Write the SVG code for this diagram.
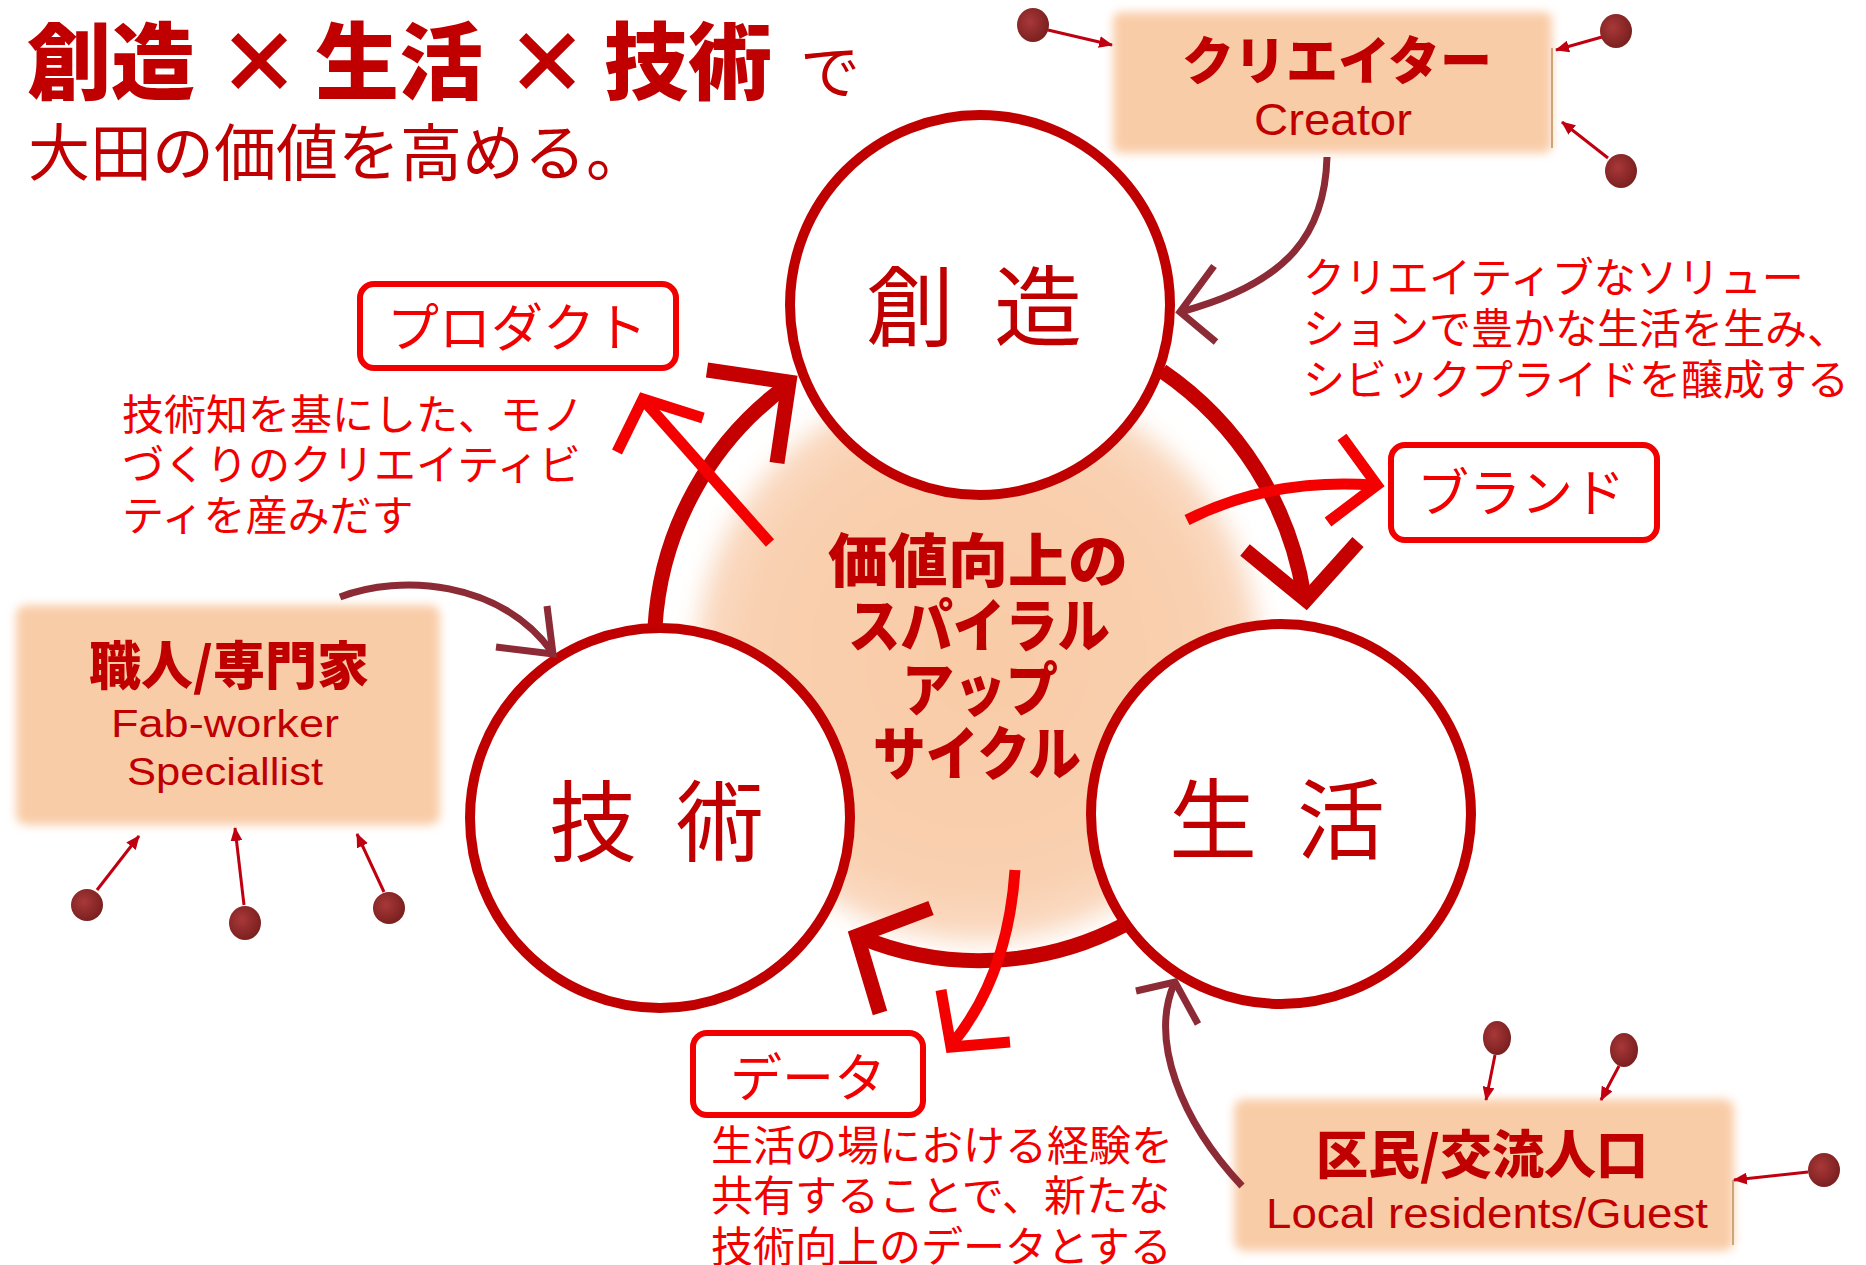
<svg xmlns="http://www.w3.org/2000/svg" width="1866" height="1265" viewBox="0 0 1866 1265">
<defs>
<style>
.jp{font-family:'Noto Sans CJK JP','Noto Sans',sans-serif}
.lat{font-family:'Liberation Sans','Noto Sans',sans-serif}
.dk{fill:#c00000}
.rd{fill:#f20000}
.title{font-size:84px;font-weight:900}
.desc{font-size:42px}
.lbl{font-size:52px;text-anchor:middle}
.boxlbl{font-size:52px;font-weight:900;text-anchor:middle}
.mid{text-anchor:middle}
.circ{fill:#fff;stroke:#c00000;stroke-width:10}
.ctext{font-size:88px}
.peach{fill:#f9cca8}
.frame{fill:#fff;stroke:#f20000;stroke-width:6}
.cyc{fill:none;stroke:#c40000;stroke-width:15;stroke-linejoin:miter}
.br{fill:none;stroke:#f50000;stroke-width:11}
.mr{fill:none;stroke:#8c2a35;stroke-width:7}
.sm{stroke:#c00010;stroke-width:3;fill:none;marker-end:url(#tip)}
.dot{fill:url(#dotg)}
.edge{stroke:#c9a577;stroke-width:2}
</style>
<filter id="soft" x="-10%" y="-10%" width="120%" height="120%"><feGaussianBlur stdDeviation="5"/></filter>
<filter id="softer" x="-20%" y="-20%" width="140%" height="140%"><feGaussianBlur stdDeviation="12"/></filter>
<radialGradient id="dotg" cx="40%" cy="40%" r="60%"><stop offset="0" stop-color="#a83838"/><stop offset="1" stop-color="#7c2020"/></radialGradient>
<radialGradient id="blobg" cx="50%" cy="50%" r="50%"><stop offset="0" stop-color="#f9cba6"/><stop offset="0.8" stop-color="#f9d0b0"/><stop offset="1" stop-color="#fadbc4"/></radialGradient>
<marker id="tip" markerUnits="userSpaceOnUse" markerWidth="14" markerHeight="12" refX="13" refY="6" orient="auto"><path d="M0,0 L14,6 L0,12 z" fill="#c00010"/></marker>
</defs>
<rect width="1866" height="1265" fill="#fff"/>

<g id="spiral-bg"><circle cx="978" cy="660" r="282" fill="url(#blobg)" filter="url(#softer)"/></g>

<g id="title" class="jp dk">
<text class="title" x="27" y="93">創造</text>
<text class="title mid" x="259" y="93">×</text>
<text class="title" x="315" y="93">生活</text>
<text class="title mid" x="547" y="93">×</text>
<text class="title" x="604" y="93">技術</text>
<text x="800" y="94" font-size="60">で</text>
<text x="28" y="176" font-size="62">大田の価値を高める。</text>
</g>

<g id="creator">
<rect class="peach" x="1113" y="12" width="439" height="141" rx="8" filter="url(#soft)"/>
<line class="edge" x1="1552" y1="48" x2="1552" y2="148"/>
<text class="jp dk boxlbl" x="1337" y="80" font-size="54">クリエイター</text>
<text class="lat dk mid" x="1333" y="135" font-size="44" textLength="158" lengthAdjust="spacingAndGlyphs">Creator</text>
</g>

<g id="fabworker">
<rect class="peach" x="16" y="605" width="424" height="220" rx="10" filter="url(#soft)"/>
<text class="jp dk boxlbl" x="229" y="685" font-size="55">職人/専門家</text>
<text class="lat dk mid" x="225" y="737" font-size="38" textLength="228" lengthAdjust="spacingAndGlyphs">Fab-worker</text>
<text class="lat dk mid" x="225" y="785" font-size="38" textLength="196" lengthAdjust="spacingAndGlyphs">Speciallist</text>
</g>

<g id="residents">
<rect class="peach" x="1234" y="1099" width="500" height="152" rx="10" filter="url(#soft)"/>
<line class="edge" x1="1733" y1="1180" x2="1733" y2="1245"/>
<text class="jp dk boxlbl" x="1482" y="1174" font-size="53">区民/交流人口</text>
<text class="lat dk mid" x="1487" y="1228" font-size="43" textLength="442" lengthAdjust="spacingAndGlyphs">Local residents/Guest</text>
</g>

<g id="node-souzou">
<circle class="circ" cx="980" cy="305" r="190"/>
<text class="jp dk ctext" y="339"><tspan x="866">創</tspan> <tspan x="994">造</tspan></text>
</g>
<g id="node-gijutsu">
<circle class="circ" cx="660" cy="818" r="190"/>
<text class="jp dk ctext" y="854"><tspan x="549">技</tspan> <tspan x="676">術</tspan></text>
</g>
<g id="node-seikatsu">
<circle class="circ" cx="1281" cy="814" r="190"/>
<text class="jp dk ctext" y="852"><tspan x="1169">生</tspan> <tspan x="1297">活</tspan></text>
</g>

<g id="center-label" class="jp dk" font-size="58" font-weight="900" text-anchor="middle">
<text x="978" y="582" textLength="300" lengthAdjust="spacingAndGlyphs">価値向上の</text>
<text x="979" y="647" textLength="262" lengthAdjust="spacingAndGlyphs">スパイラル</text>
<text x="980" y="711" textLength="156" lengthAdjust="spacingAndGlyphs">アップ</text>
<text x="977" y="775" textLength="208" lengthAdjust="spacingAndGlyphs">サイクル</text>
</g>

<g id="product">
<rect class="frame" x="360" y="284" width="316" height="84" rx="14"/>
<text class="jp rd lbl" x="517" y="347">プロダクト</text>
</g>
<g id="brand">
<rect class="frame" x="1391" y="445" width="266" height="95" rx="14"/>
<text class="jp rd lbl" x="1521" y="512">ブランド</text>
</g>
<g id="data">
<rect class="frame" x="693" y="1033" width="230" height="82" rx="14"/>
<text class="jp rd lbl" x="808" y="1097">データ</text>
</g>

<g id="desc-creator" class="jp rd desc">
<text x="1303" y="293">クリエイティブなソリュー</text>
<text x="1303" y="344">ションで豊かな生活を生み、</text>
<text x="1303" y="395">シビックプライドを醸成する</text>
</g>
<g id="desc-product" class="jp rd desc">
<text x="122" y="430">技術知を基にした、モノ</text>
<text x="122" y="480">づくりのクリエイティビ</text>
<text x="122" y="531">ティを産みだす</text>
</g>
<g id="desc-data" class="jp rd desc">
<text x="711" y="1161">生活の場における経験を</text>
<text x="711" y="1211">共有することで、新たな</text>
<text x="711" y="1262">技術向上のデータとする</text>
</g>

<g id="connectors">
<path class="cyc" d="M655,627 A322,322 0 0 1 789,384"/>
<path class="cyc" d="M707,370 L789,382 L777,463"/>
<path class="cyc" d="M1162,371 A335,335 0 0 1 1304,596"/>
<path class="cyc" d="M1245,550 L1306,600 L1358,542"/>
<path class="cyc" stroke-width="17" d="M1124,925 A312,312 0 0 1 860,937"/>
<path class="cyc" stroke-width="17" d="M931,908 L857,936 L880,1013"/>

<path class="br" d="M770,543 L646,403"/>
<path class="br" d="M617,452 L643,399 L703,418"/>
<path class="br" d="M1187,520 Q1270,478 1373,485"/>
<path class="br" d="M1342,437 L1377,485 L1328,522"/>
<path class="br" d="M1015,870 Q1008,975 953,1043"/>
<path class="br" d="M941,990 L951,1047 L1010,1042"/>

<path class="mr" d="M1327,157 C1325,232 1290,282 1184,311"/>
<path class="mr" d="M1214,266 L1180,312 L1216,342"/>
<path class="mr" d="M340,597 C400,574 500,580 552,652"/>
<path class="mr" d="M496,647 L553,654 L547,606"/>
<path class="mr" d="M1242,1186 C1180,1120 1150,1040 1174,984"/>
<path class="mr" d="M1136,991 L1175,982 L1198,1024"/>

<line class="sm" x1="1048" y1="30" x2="1112" y2="45"/>
<line class="sm" x1="1602" y1="37" x2="1556" y2="50"/>
<line class="sm" x1="1608" y1="158" x2="1562" y2="122"/>
<line class="sm" x1="97" y1="890" x2="139" y2="836"/>
<line class="sm" x1="244" y1="905" x2="235" y2="828"/>
<line class="sm" x1="384" y1="892" x2="357" y2="834"/>
<line class="sm" x1="1495" y1="1055" x2="1486" y2="1100"/>
<line class="sm" x1="1619" y1="1066" x2="1601" y2="1100"/>
<line class="sm" x1="1808" y1="1172" x2="1734" y2="1180"/>
</g>

<g id="sources">
<ellipse class="dot" cx="1033" cy="25" rx="16" ry="17"/>
<ellipse class="dot" cx="1616" cy="31" rx="16" ry="17"/>
<ellipse class="dot" cx="1621" cy="171" rx="16" ry="17"/>
<ellipse class="dot" cx="87" cy="905" rx="16" ry="16"/>
<ellipse class="dot" cx="245" cy="923" rx="16" ry="17"/>
<ellipse class="dot" cx="389" cy="908" rx="16" ry="16"/>
<ellipse class="dot" cx="1497" cy="1038" rx="14" ry="17"/>
<ellipse class="dot" cx="1624" cy="1050" rx="14" ry="17"/>
<ellipse class="dot" cx="1824" cy="1170" rx="16" ry="17"/>
</g>
</svg>
